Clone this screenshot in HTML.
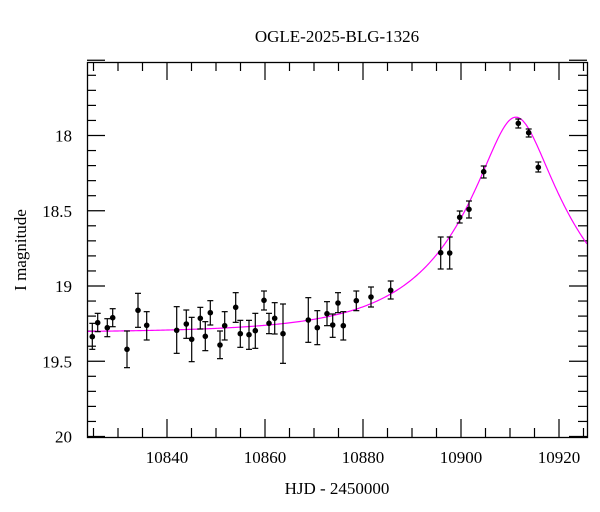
<!DOCTYPE html>
<html><head><meta charset="utf-8"><style>
html,body{margin:0;padding:0;background:#fff;width:600px;height:512px;overflow:hidden}
svg text{font-family:"Liberation Serif",serif;fill:#000}
</style></head><body>
<svg id="s" width="600" height="512" xmlns="http://www.w3.org/2000/svg">
<text x="337" y="42" font-size="17" text-anchor="middle">OGLE-2025-BLG-1326</text>
<text x="337" y="494" font-size="17" text-anchor="middle">HJD - 2450000</text>
<text transform="translate(26,250) rotate(-90)" font-size="17" text-anchor="middle">I magnitude</text>
<g id="g"></g>
<rect x="87.5" y="62.5" width="500" height="375" fill="none" stroke="#000" stroke-width="1.3"/>
</svg>
<script>
var g=document.getElementById('g'),h='';
function X(t){return 167+(t-10840)*4.9;}
function Y(m){return 135.5+(m-18)*150.5;}
for(var t=10825;t<=10925;t+=5){var x=X(t),maj=t%20==0,L=maj?18:9;
h+='<line x1="'+x+'" y1="437" x2="'+x+'" y2="'+(437-L)+'" stroke="#000" stroke-width="1.2"/>';
h+='<line x1="'+x+'" y1="62" x2="'+x+'" y2="'+(62+L)+'" stroke="#000" stroke-width="1.2"/>';
if(maj)h+='<text x="'+x+'" y="463" font-size="17" text-anchor="middle">'+t+'</text>';}
for(var i=0;i<=25;i++){var m=17.5+i*0.1,y=Y(m),maj=i%5==0,L=maj?18:9;
h+='<line x1="87" y1="'+y+'" x2="'+(87+L)+'" y2="'+y+'" stroke="#000" stroke-width="1.2"/>';
h+='<line x1="587" y1="'+y+'" x2="'+(587-L)+'" y2="'+y+'" stroke="#000" stroke-width="1.2"/>';
if(maj&&i>0){var lab=(Math.round(m*10)/10).toString();h+='<text x="72" y="'+(y+6)+'" font-size="17" text-anchor="end">'+lab+'</text>';}}
var d='',t0=10911.2,tE=23.5,u0=0.275,base=19.31;
for(var x=87;x<=587;x+=1){var t=10840+(x-167)/4.9,tau=(t-t0)/tE,u=Math.sqrt(u0*u0+tau*tau),A=(u*u+2)/(u*Math.sqrt(u*u+4));
var y=Y(base-2.5*Math.log10(A));d+=(x==87?'M':'L')+x+' '+y.toFixed(2);}
h+='<path d="'+d+'" fill="none" stroke="#f0f" stroke-width="1.2"/>';
var P=[[92.3,336.7,190,268],[97.7,322.7,160,215],[107.3,327.7,295,345],[112.7,317.7,308,327],[127,349.3,213,323],[138,310.3,100,202],[146.7,325.3,155,240],[176.7,330.3,140,280],[186.3,324,150,235],[191.7,339.3,172,305],[200.3,318.3,142,207],[205.3,336.3,185,272],[210.3,312.7,122,195],[220,345,213,296],[224.7,325.7,155,240],[235.7,307.3,98,187],[240.3,333.7,181,262],[249,334.7,181,268],[255.3,330.7,160,265],[264,300.3,93,150],[269,323.3,160,221],[274.7,318.3,128,222],[283,333.7,132,310],[308.3,320,113,247],[317.3,327.7,152,254],[327,313.7,125,197],[332.7,325,162,232],[338,303,98,158],[343.3,325.7,155,240],[356.3,300.7,93,152]];
P=P.map(function(p){return p[2]<280&&p[0]>110||p[0]<100?[p[0],p[1],p[2]/3+260,p[3]/3+260]:[p[0],p[1],p[1]-9,p[1]+9];});
P=P.concat([[371,297,287,307],[390.7,290.3,281,299],[440.7,252.7,237,269],[449.7,253,237,269],[459.7,217.3,211,223],[469,209.3,201,218],[483.7,171.7,166,178],[518.3,123.3,119,128],[528.7,132.7,129,137],[538.3,167.3,162,172]]);
P.forEach(function(p){var x=p[0];
h+='<line x1="'+x+'" y1="'+p[2]+'" x2="'+x+'" y2="'+p[3]+'" stroke="#000" stroke-width="1.2"/>';
h+='<line x1="'+(x-3)+'" y1="'+p[2]+'" x2="'+(x+3)+'" y2="'+p[2]+'" stroke="#000" stroke-width="1.2"/>';
h+='<line x1="'+(x-3)+'" y1="'+p[3]+'" x2="'+(x+3)+'" y2="'+p[3]+'" stroke="#000" stroke-width="1.2"/>';
h+='<circle cx="'+x+'" cy="'+p[1]+'" r="2.8" fill="#000"/>';});
g.innerHTML=h;
</script>
</body></html>
